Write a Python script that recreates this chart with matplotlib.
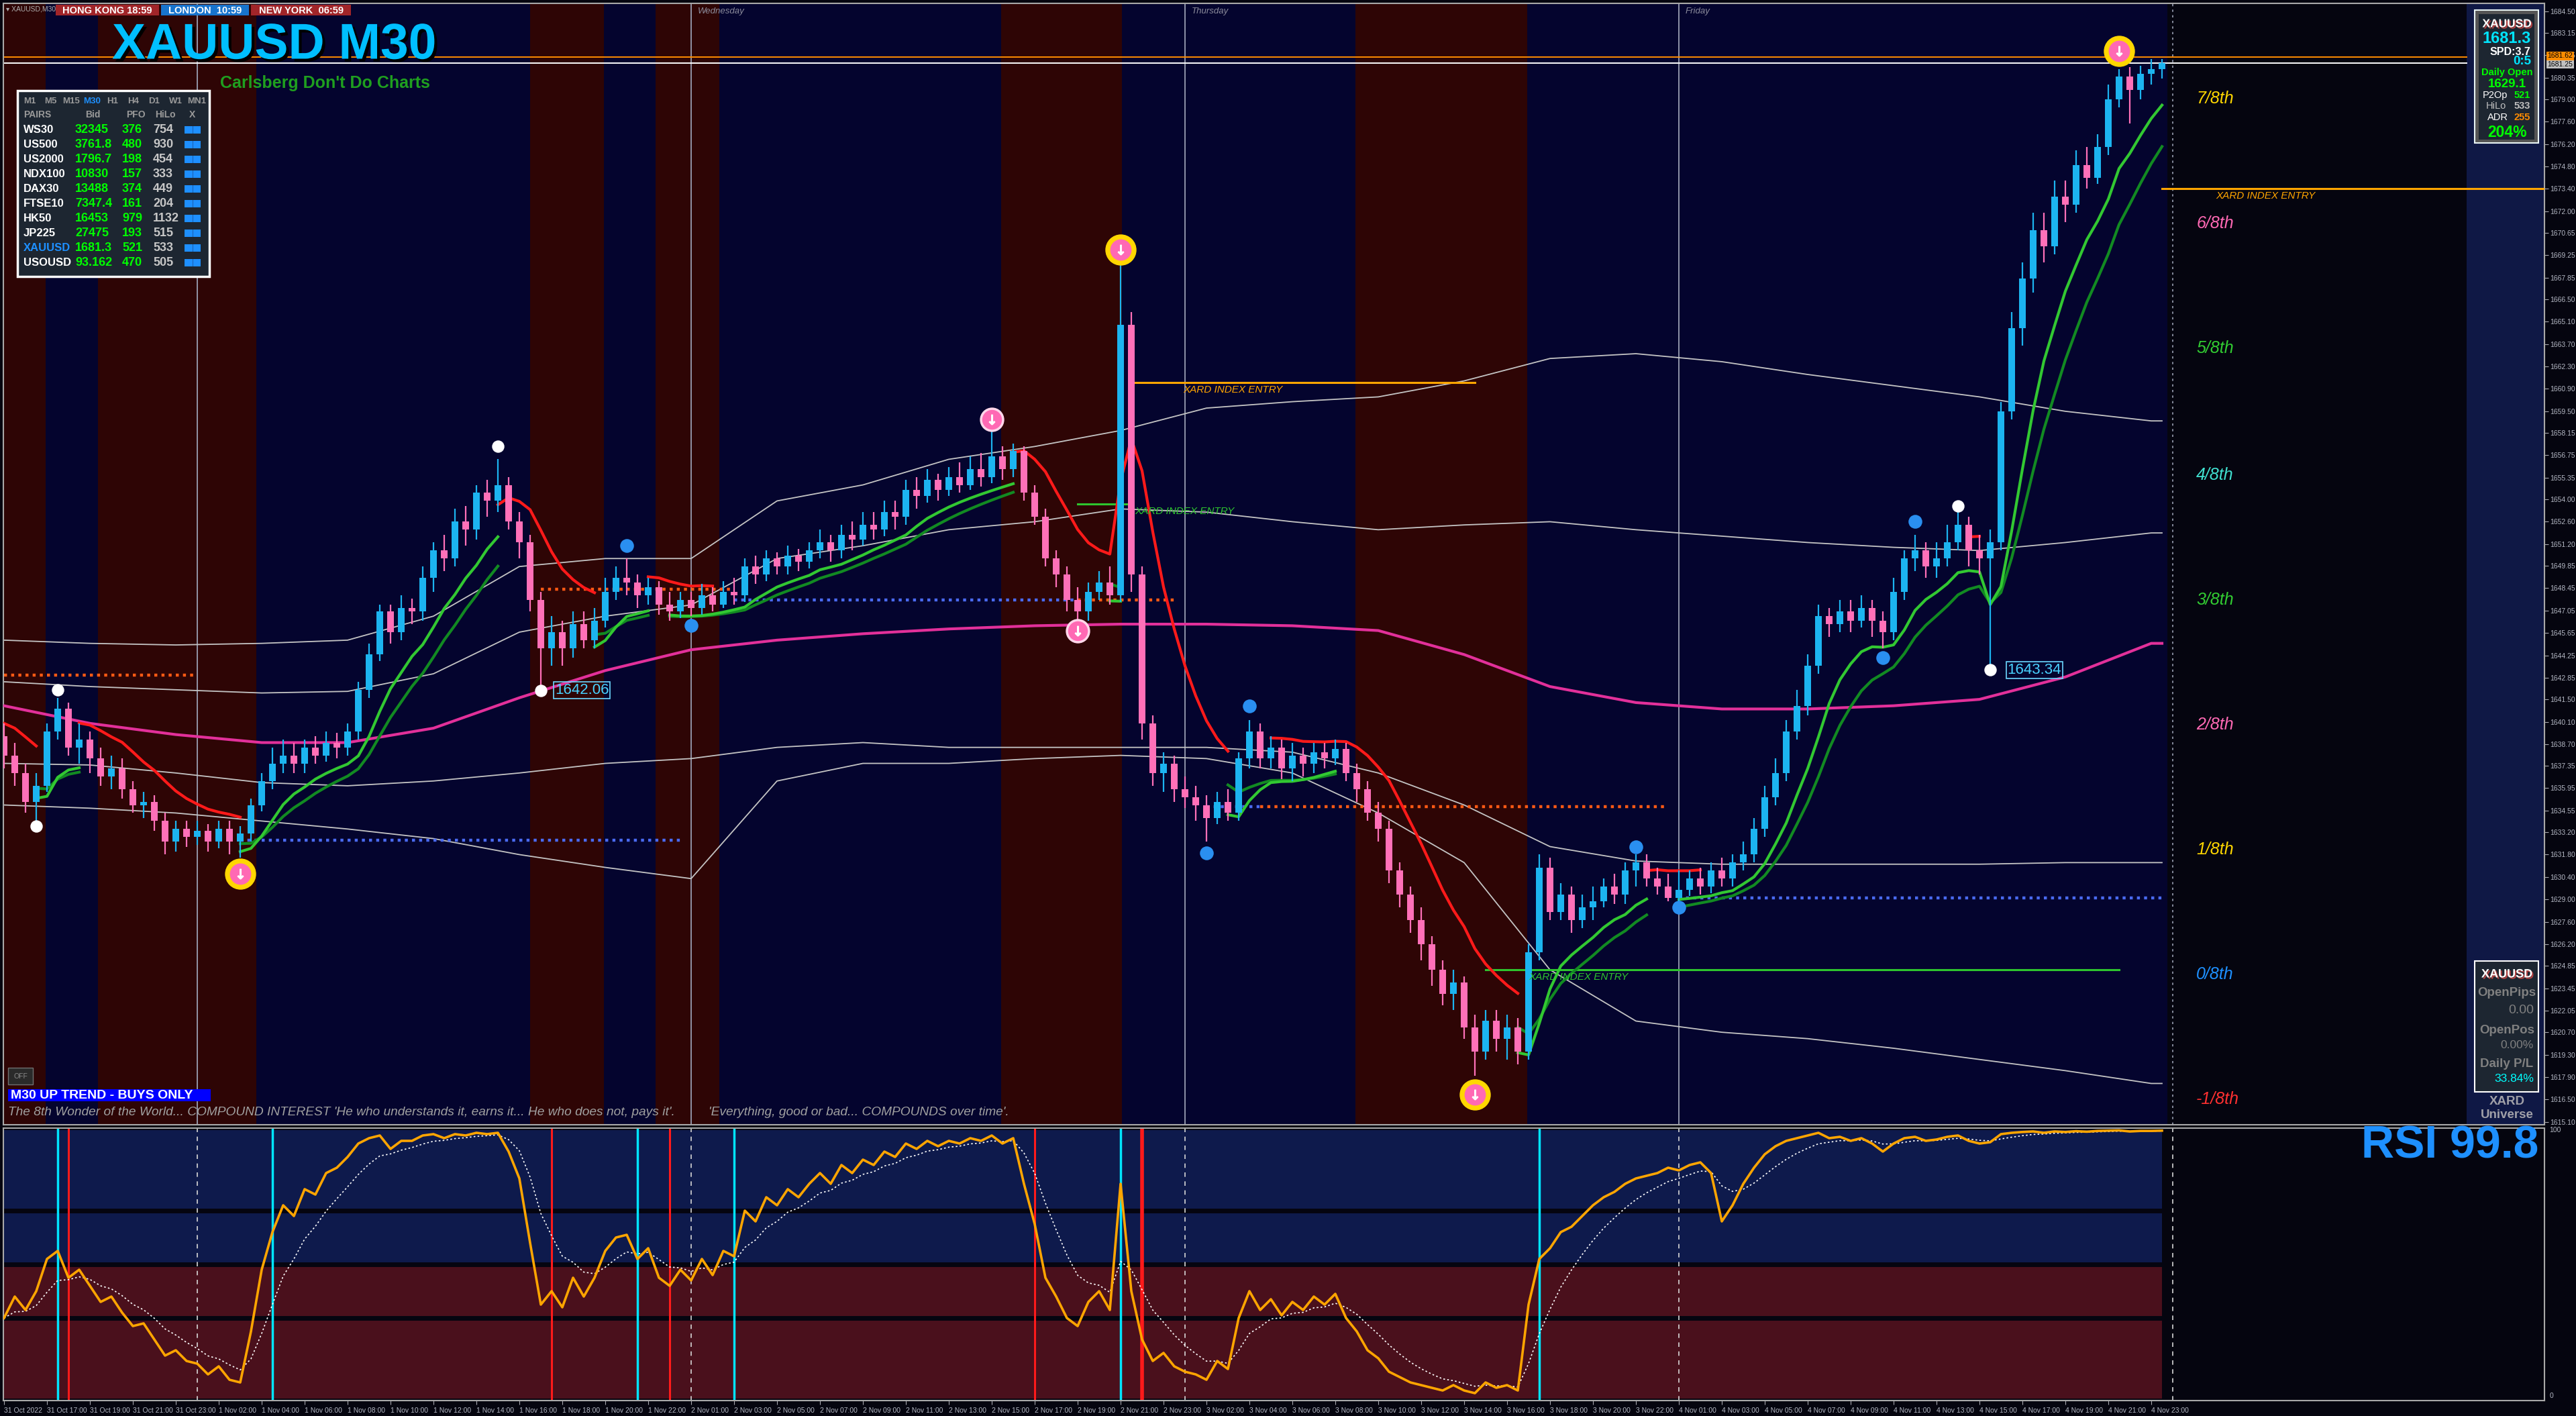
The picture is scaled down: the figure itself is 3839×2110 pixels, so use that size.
import numpy as np
import matplotlib
matplotlib.use("Agg")
import matplotlib.pyplot as plt
from matplotlib.patches import Rectangle
import matplotlib.patheffects as pe
from datetime import datetime, timedelta

plt.rcParams['font.family'] = ['Liberation Sans', 'DejaVu Sans']

# ---------------- data ----------------
first_open = 1639.2
closes = [1638.0, 1636.9, 1635.1, 1636.1, 1639.5, 1640.9, 1638.5, 1639.0, 1637.8, 1636.7,
          1637.2, 1635.9, 1634.9, 1635.1, 1633.9, 1632.6, 1633.4, 1632.9, 1633.3, 1632.6,
          1633.4, 1632.6, 1633.1, 1634.9, 1636.4, 1637.5, 1638.0, 1637.5, 1638.5, 1638.0,
          1638.8, 1638.5, 1639.5, 1642.1, 1644.3, 1647.0, 1645.7, 1647.2, 1647.0, 1649.1,
          1650.8, 1650.3, 1652.6, 1652.1, 1654.4, 1653.9, 1654.9, 1652.6, 1651.3, 1647.7,
          1644.7, 1645.7, 1644.7, 1646.2, 1645.2, 1646.4, 1648.2, 1649.1, 1648.8, 1648.0,
          1648.5, 1647.4, 1647.0, 1647.7, 1647.2, 1648.0, 1647.4, 1648.2, 1648.0, 1649.8,
          1649.3, 1650.3, 1649.8, 1650.5, 1650.1, 1650.8, 1651.3, 1650.8, 1651.8, 1651.5,
          1652.4, 1652.1, 1653.2, 1652.9, 1654.6, 1654.2, 1655.2, 1654.6, 1655.4, 1654.9,
          1655.9, 1655.4, 1656.7, 1655.9, 1657.0, 1654.4, 1652.9, 1650.3, 1649.3, 1647.7,
          1647.0, 1648.2, 1648.8, 1648.0, 1664.9, 1649.3, 1640.0, 1636.9, 1637.5, 1635.9,
          1635.4, 1634.9, 1634.1, 1635.1, 1634.4, 1637.8, 1639.5, 1637.8, 1638.5, 1637.2,
          1638.0, 1637.5, 1638.2, 1637.8, 1638.4, 1636.9, 1635.9, 1634.4, 1633.4, 1630.8,
          1629.3, 1627.7, 1626.2, 1624.6, 1623.1, 1623.8, 1621.0, 1619.5, 1621.4, 1620.3,
          1621.0, 1619.5, 1625.7, 1631.0, 1628.2, 1629.3, 1627.7, 1628.5, 1628.9, 1629.8,
          1629.3, 1630.8, 1631.3, 1630.3, 1629.8, 1629.1, 1629.6, 1630.3, 1629.8, 1630.8,
          1630.3, 1631.3, 1631.8, 1633.4, 1635.4, 1636.9, 1639.5, 1641.1, 1643.6, 1646.7,
          1646.2, 1647.0, 1646.4, 1647.2, 1646.4, 1645.7, 1648.2, 1650.3, 1650.8, 1649.8,
          1650.3, 1651.3, 1652.4, 1650.8, 1650.3, 1651.3, 1659.5, 1664.7, 1667.8, 1670.8,
          1669.8, 1672.9, 1672.4, 1674.9, 1674.1, 1676.0, 1679.0, 1680.4, 1679.6, 1680.6,
          1680.9, 1681.25]
highs = [1640.0, 1638.8, 1637.5, 1636.9, 1640.0, 1641.6, 1641.3, 1640.0, 1639.5, 1638.5,
         1638.0, 1637.8, 1636.4, 1635.7, 1635.5, 1634.4, 1633.9, 1633.9, 1633.9, 1633.7,
         1633.9, 1633.9, 1633.6, 1635.3, 1636.9, 1638.5, 1639.0, 1638.8, 1639.0, 1639.2,
         1639.5, 1639.4, 1640.0, 1642.6, 1645.0, 1647.4, 1647.4, 1648.0, 1647.8, 1649.8,
         1651.3, 1651.8, 1653.4, 1653.6, 1654.9, 1655.2, 1656.5, 1655.4, 1653.2, 1651.8,
         1648.2, 1646.7, 1646.4, 1647.0, 1647.0, 1647.2, 1649.1, 1649.8, 1650.3, 1649.3,
         1649.1, 1648.9, 1648.2, 1648.2, 1648.2, 1648.7, 1648.5, 1648.9, 1649.1, 1650.3,
         1650.5, 1650.8, 1650.7, 1651.1, 1650.9, 1651.3, 1652.1, 1651.8, 1652.4, 1652.6,
         1653.2, 1653.2, 1653.9, 1653.9, 1655.2, 1655.4, 1655.9, 1655.6, 1656.0, 1656.3,
         1656.7, 1656.9, 1658.3, 1657.3, 1657.5, 1657.3, 1654.9, 1653.4, 1650.8, 1649.8,
         1648.5, 1648.8, 1649.5, 1649.8, 1668.8, 1665.7, 1649.8, 1640.5, 1638.2, 1638.0,
         1636.7, 1636.1, 1635.5, 1635.7, 1635.9, 1638.2, 1640.2, 1640.0, 1639.2, 1639.0,
         1638.8, 1638.5, 1638.8, 1638.8, 1639.0, 1638.8, 1637.5, 1636.4, 1635.1, 1633.9,
         1631.3, 1629.8, 1628.5, 1626.7, 1625.2, 1624.6, 1624.2, 1621.8, 1622.1, 1622.1,
         1621.8, 1621.6, 1626.2, 1631.8, 1631.6, 1630.0, 1629.8, 1629.3, 1629.8, 1630.3,
         1630.6, 1631.3, 1631.8, 1631.8, 1631.0, 1630.6, 1630.8, 1630.8, 1631.0, 1631.3,
         1631.6, 1631.8, 1632.6, 1634.1, 1636.1, 1637.8, 1640.2, 1642.1, 1644.3, 1647.4,
         1647.2, 1647.7, 1647.7, 1648.0, 1647.7, 1647.0, 1649.1, 1650.8, 1651.8, 1651.3,
         1651.3, 1652.4, 1653.2, 1652.9, 1651.8, 1652.1, 1660.1, 1665.7, 1668.8, 1671.9,
         1671.9, 1673.9, 1673.9, 1675.8, 1676.0, 1676.8, 1679.9, 1680.9, 1681.0, 1681.1,
         1681.5, 1681.5]
lows = [1637.2, 1636.1, 1634.4, 1633.9, 1635.7, 1639.0, 1638.0, 1637.5, 1636.9, 1636.1,
        1635.9, 1635.3, 1634.4, 1634.1, 1633.3, 1631.8, 1632.0, 1632.3, 1632.4, 1632.0,
        1632.2, 1631.8, 1631.6, 1632.6, 1634.5, 1635.9, 1636.9, 1636.9, 1636.9, 1637.5,
        1637.6, 1637.8, 1638.0, 1639.0, 1641.6, 1643.9, 1645.0, 1645.2, 1646.2, 1646.4,
        1648.2, 1649.5, 1649.8, 1651.1, 1651.5, 1652.9, 1653.2, 1652.1, 1650.3, 1647.0,
        1642.06, 1643.6, 1643.6, 1644.1, 1644.7, 1644.7, 1646.0, 1647.7, 1648.0, 1647.2,
        1647.4, 1646.8, 1646.4, 1646.6, 1646.7, 1646.8, 1647.0, 1647.2, 1647.4, 1647.6,
        1648.7, 1648.9, 1649.3, 1649.3, 1649.5, 1649.7, 1650.3, 1650.1, 1650.3, 1650.8,
        1651.1, 1651.5, 1651.7, 1652.1, 1652.4, 1653.4, 1653.8, 1653.9, 1654.2, 1654.4,
        1654.6, 1654.8, 1655.0, 1655.2, 1655.4, 1653.9, 1652.4, 1649.8, 1648.5, 1647.0,
        1646.0, 1646.4, 1647.7, 1647.4, 1647.6, 1648.2, 1639.0, 1636.1, 1635.7, 1635.1,
        1634.7, 1633.9, 1632.6, 1633.7, 1633.9, 1633.9, 1637.2, 1637.2, 1637.2, 1636.5,
        1636.4, 1636.7, 1636.9, 1637.2, 1637.4, 1636.4, 1635.1, 1633.9, 1632.6, 1630.0,
        1628.5, 1626.9, 1625.2, 1623.6, 1622.4, 1622.1, 1620.3, 1618.0, 1619.0, 1619.5,
        1619.0, 1618.7, 1619.0, 1625.2, 1627.7, 1627.7, 1626.9, 1627.2, 1627.7, 1628.5,
        1628.7, 1628.7, 1629.8, 1629.8, 1629.3, 1628.9, 1628.9, 1629.2, 1629.3, 1629.4,
        1629.8, 1629.8, 1630.8, 1631.3, 1632.9, 1634.9, 1636.4, 1639.0, 1640.5, 1643.1,
        1645.4, 1645.7, 1645.7, 1646.0, 1645.4, 1644.7, 1645.2, 1647.7, 1649.5, 1649.1,
        1649.1, 1649.8, 1650.8, 1649.8, 1649.3, 1643.34, 1650.8, 1659.0, 1663.6, 1666.9,
        1668.8, 1669.3, 1671.3, 1671.9, 1673.4, 1673.7, 1675.5, 1678.5, 1677.5, 1679.0,
        1679.9, 1680.3]
rsi = [30, 38, 33, 40, 52, 55, 45, 48, 42, 36, 38, 32, 27, 28, 22, 16, 18, 14, 13, 9,
       12, 7, 6, 25, 48, 62, 72, 68, 78, 76, 84, 86, 90, 95, 97, 98, 93, 96, 96, 98,
       98.5, 97, 98.5, 98, 99, 98.5, 99, 92, 82, 58, 35, 40, 34, 45, 38, 45, 55, 60, 61, 52,
       56, 45, 42, 48, 44, 52, 46, 55, 53, 70, 66, 75, 72, 78, 75, 80, 84, 80, 87, 84,
       89, 87, 92, 90, 95, 93, 96, 94, 96, 95, 97, 96, 98, 95, 97, 80, 65, 45, 38, 30,
       27, 36, 40, 33, 80, 40, 22, 14, 17, 12, 10, 9, 7, 14, 11, 30, 40, 33, 37, 31,
       36, 33, 38, 35, 39, 30, 25, 18, 15, 10, 8, 6, 5, 4, 3, 5, 3, 2, 6, 4,
       5, 3, 35, 52, 56, 62, 64, 68, 72, 75, 77, 80, 82, 83, 84, 86, 85, 87, 88, 84,
       66, 72, 80, 86, 91, 94, 96, 97, 98, 99, 97, 97.5, 96, 97, 95, 92, 95, 97, 97.5, 96,
       96.5, 97.5, 98, 96, 95, 95.5, 98.5, 99, 99.3, 99.5, 99, 99.5, 99.3, 99.6, 99.4, 99.7,
       99.8, 99.9, 99.5, 99.7, 99.7, 99.8]

# session background bands (bar positions)
band_edges = [-0.5, 3.9, 8.75, 23.5, 49.0, 55.9, 60.7, 66.6, 92.9, 104.1, 125.9, 141.9, 201.5]
band_kinds = ['r', 'n', 'r', 'n', 'r', 'n', 'r', 'n', 'r', 'n', 'r', 'n']

# slow average and envelopes, sampled every 8 bars
env_bars = [0, 8, 16, 24, 32, 40, 48, 56, 64, 72, 80, 88, 96, 104, 112, 120, 128, 136,
            144, 152, 160, 168, 176, 184, 192, 200]
slow_ma = [1641.1, 1640.0, 1639.3, 1638.8, 1638.8, 1639.7, 1641.6, 1643.3, 1644.6, 1645.2,
           1645.6, 1645.9, 1646.1, 1646.2, 1646.2, 1646.1, 1645.8, 1644.3, 1642.3, 1641.3,
           1640.9, 1640.9, 1641.1, 1641.5, 1642.9, 1645.0]
env_up2 = [1645.2, 1645.0, 1644.9, 1645.0, 1645.2, 1646.7, 1649.8, 1650.3, 1650.3, 1653.9,
           1654.9, 1656.5, 1657.3, 1658.3, 1659.7, 1660.1, 1660.4, 1661.4, 1662.8, 1663.1,
           1662.6, 1661.8, 1661.1, 1660.4, 1659.5, 1658.9]
env_up1 = [1642.6, 1642.3, 1642.1, 1641.9, 1642.0, 1643.1, 1645.7, 1646.7, 1647.4, 1650.3,
           1651.1, 1652.1, 1652.6, 1653.4, 1653.2, 1652.6, 1652.1, 1652.4, 1652.6, 1652.1,
           1651.7, 1651.3, 1651.0, 1650.8, 1651.3, 1651.9]
env_dn1 = [1637.5, 1637.4, 1636.9, 1636.3, 1636.1, 1636.4, 1636.9, 1637.5, 1637.8, 1638.5,
           1638.8, 1638.5, 1638.5, 1638.5, 1638.5, 1638.2, 1636.9, 1634.9, 1632.3, 1631.4,
           1631.2, 1631.2, 1631.2, 1631.2, 1631.3, 1631.3]
env_dn2 = [1634.9, 1634.7, 1634.4, 1633.9, 1633.4, 1632.8, 1631.8, 1631.0, 1630.3, 1636.4,
           1637.5, 1637.5, 1637.8, 1638.0, 1637.8, 1636.9, 1634.4, 1631.3, 1624.6, 1621.4,
           1620.7, 1620.3, 1619.7, 1619.0, 1618.3, 1617.5]

# daily-open style dotted levels
dot_levels = [1643.0, 1632.7, 1648.4, 1647.7, 1647.7, 1634.8, 1634.8, 1629.1]
dot_start = [0, 22, 50, 68, 100, 112, 117, 156]
dot_end = [18, 63, 68, 100, 109, 117, 155, 201]
dot_kind = ['o', 'b', 'o', 'b', 'o', 'b', 'o', 'b']

# "XARD INDEX ENTRY" lines
entry_levels = [1661.3, 1653.7, 1624.6, 1673.4]
entry_start = [105, 100, 138, 201]
entry_end = [137, 105, 197, 240]
entry_text_x = [109.8, 105.3, 142.0, 206.0]
entry_kind = ['o', 'g', 'g', 'o']

white_x = [3, 5, 46, 50, 182, 185]
white_y = [1633.6, 1642.1, 1657.3, 1642.06, 1653.6, 1643.34]
blue_x = [58, 64, 112, 116, 152, 156, 175, 178]
blue_y = [1651.1, 1646.1, 1631.9, 1641.1, 1632.3, 1628.5, 1644.1, 1652.6]
pink_x = [92, 100]
pink_y = [1659.0, 1645.8]
ring_x = [22, 104, 137, 197]
ring_y = [1630.6, 1669.6, 1616.8, 1682.0]

fib_labels = ['7/8th', '6/8th', '5/8th', '4/8th', '3/8th', '2/8th', '1/8th', '0/8th', '-1/8th']
fib_prices = [1679.04, 1671.24, 1663.44, 1655.53, 1647.73, 1639.93, 1632.13, 1624.33, 1616.53]
fib_colors = ['#ffd700', '#ff69b4', '#32cd32', '#40e0d0', '#32cd32', '#ff69b4', '#ffd700',
              '#1e90ff', '#ff3030']

cyan_sig = [5, 25, 59, 68, 104, 143]
red_sig = [6, 51, 62, 96, 106]

price_ticks = [1684.50, 1683.15, 1681.75, 1680.35, 1679.00, 1677.60, 1676.20, 1674.80, 1673.40,
               1672.00, 1670.65, 1669.25, 1667.85, 1666.50, 1665.10, 1663.70, 1662.30, 1660.90,
               1659.50, 1658.15, 1656.75, 1655.35, 1654.00, 1652.60, 1651.20, 1649.85, 1648.45,
               1647.05, 1645.65, 1644.25, 1642.85, 1641.50, 1640.10, 1638.70, 1637.35, 1635.95,
               1634.55, 1633.20, 1631.80, 1630.40, 1629.00, 1627.60, 1626.20, 1624.85, 1623.45,
               1622.05, 1620.70, 1619.30, 1617.90, 1616.50, 1615.10]
bid, ask = 1681.25, 1681.62

pairs = ['WS30', 'US500', 'US2000', 'NDX100', 'DAX30', 'FTSE10', 'HK50', 'JP225', 'XAUUSD', 'USOUSD']
pair_bid = ['32345', '3761.8', '1796.7', '10830', '13488', '7347.4', '16453', '27475', '1681.3', '93.162']
pair_pfo = ['376', '480', '198', '157', '374', '161', '979', '193', '521', '470']
pair_hilo = ['754', '930', '454', '333', '449', '204', '1132', '515', '533', '505']
timeframes = ['M1', 'M5', 'M15', 'M30', 'H1', 'H4', 'D1', 'W1', 'MN1']

# ---------------- figure ----------------
W, H, DPI = 3839, 2110, 100
BG = '#05050f'
NAVY = '#04042e'
MAROON = '#2e0505'
fig = plt.figure(figsize=(W / DPI, H / DPI), dpi=DPI)
fig.patch.set_facecolor(BG)


def fig_box(x0, y0, x1, y1):
    return [x0 / W, 1 - y1 / H, (x1 - x0) / W, (y1 - y0) / H]


def ftext(x, y, s, **kw):
    kw.setdefault('va', 'center')
    fig.text(x / W, 1 - y / H, s, **kw)


def frect(x0, y0, x1, y1, **kw):
    fig.add_artist(Rectangle((x0 / W, 1 - y1 / H), (x1 - x0) / W, (y1 - y0) / H,
                             transform=fig.transFigure, **kw))


ax = fig.add_axes(fig_box(5, 5, 3792, 1676))
rax = fig.add_axes(fig_box(5, 1681, 3792, 2087))
XMIN, XMAX = (5 - 6) / 16, (3792 - 6) / 16

o = np.array([first_open] + closes[:-1])
c = np.array(closes)
h = np.maximum(np.array(highs), np.maximum(o, c))
l = np.minimum(np.array(lows), np.minimum(o, c))
n = len(c)
x = np.arange(n)

t = datetime(2022, 10, 31, 15, 0)
times = []
while len(times) < n:
    if t.hour != 0:
        times.append(t)
    t += timedelta(minutes=30)
day_bars = [i for i, tt in enumerate(times) if tt.hour == 1 and tt.minute == 0] + [n]

# ---- main panel ----
ax.set_facecolor(BG)
for k in range(len(band_kinds)):
    ax.axvspan(band_edges[k], band_edges[k + 1], color=MAROON if band_kinds[k] == 'r' else NAVY,
               zorder=0, lw=0)
ax.axvspan(229.4, XMAX, color='#0f1845', zorder=0.5, lw=0)

for b in day_bars[:-1]:
    ax.axvline(b, color='#9aa0b4', lw=1.3, zorder=1)
ax.axvline(day_bars[-1], color='#9aa0b4', lw=1.2, ls=(0, (2, 3)), zorder=1)
for b, name in zip(day_bars[1:4], ['Wednesday', 'Thursday', 'Friday']):
    ax.text(b + 0.6, 1684.5, name, color='#8c8c9c', style='italic', fontsize=9.5, va='center')

ax.plot([XMIN, 229.4], [ask, ask], color='#ff8c00', lw=1.4, zorder=2)
ax.plot([XMIN, 229.4], [bid, bid], color='white', lw=1.4, zorder=2)

for line in (env_up2, env_up1, env_dn1, env_dn2):
    ax.plot(env_bars + [n - 1], line + [line[-1]], color='#c4c4c4', lw=1.3, zorder=2)
ax.plot(env_bars + [n - 1], slow_ma + [slow_ma[-1]], color='#e2309a', lw=3, zorder=3)

for lv, s0, s1, kd in zip(dot_levels, dot_start, dot_end, dot_kind):
    ax.plot([s0, s1], [lv, lv], color='#ff5a14' if kd == 'o' else '#4a6af0', lw=3.2,
            ls=(0, (1, 1.4)), zorder=3)

ecol = {'o': '#ffa500', 'g': '#2ec52e'}
for lv, s0, s1, tx, kd in zip(entry_levels, entry_start, entry_end, entry_text_x, entry_kind):
    ax.plot([s0, s1], [lv, lv], color=ecol[kd], lw=2.2, zorder=3)
    ax.text(tx, lv - 0.15, 'XARD INDEX ENTRY', color=ecol[kd], style='italic', fontsize=11,
            va='top', zorder=6)


def ema(vals, span):
    a = 2.0 / (span + 1)
    out = np.empty(len(vals))
    out[0] = vals[0]
    for i in range(1, len(vals)):
        out[i] = a * vals[i] + (1 - a) * out[i - 1]
    return out


red_ma = ema(h, 7)
g_fast = ema(l, 5)
g_slow = ema(l, 9)
trend = ema(c, 6)
down = np.r_[False, np.diff(trend) < 0]
red_vis = down | np.r_[down[1:], False]
grn_vis = (~down) | np.r_[(~down)[1:], False]
ax.plot(x, np.where(grn_vis, g_slow, np.nan), color='#128a22', lw=3, zorder=4)
ax.plot(x, np.where(grn_vis, g_fast, np.nan), color='#32c832', lw=3, zorder=4)
ax.plot(x, np.where(red_vis, red_ma, np.nan), color='#ff1a1a', lw=3, zorder=4)

# candles
up = c >= o
col = np.where(up, '#1cb4f0', '#ff70b8')
ax.vlines(x, l, h, colors=col, lw=1.6, zorder=5)
body = c - o
body = np.where(np.abs(body) < 0.06, 0.06, body)
ax.bar(x, body, bottom=o, width=0.62, color=col, zorder=5, lw=0)

# signal markers
ax.scatter(white_x, white_y, s=150, color='white', zorder=7)
ax.scatter(blue_x, blue_y, s=190, color='#2a8ff0', zorder=7)
ax.scatter(pink_x, pink_y, s=560, color='#ff69b4', edgecolors='#ffd6ea', linewidths=2.5, zorder=7)
ax.scatter(ring_x, ring_y, s=1050, color='#ffd700', zorder=7)
ax.scatter(ring_x, ring_y, s=480, color='#ff69b4', zorder=8)
ax.scatter(pink_x + ring_x, pink_y + ring_y, s=110, marker=r'$\downarrow$', color='white', zorder=9)

for bx, val in ((51.3, 1642.06), (186.6, 1643.34)):
    ax.text(bx, val, f'{val:.2f}', color='#48d2ff', fontsize=16, va='center', zorder=8,
            bbox=dict(facecolor='none', edgecolor='#6cd8ff', lw=1.2, pad=1.5))

for lab, pv, fc in zip(fib_labels, fib_prices, fib_colors):
    ax.text(204.2, pv, lab, color=fc, style='italic', fontsize=18, va='center', zorder=6)

ax.set_xlim(XMIN, XMAX)
ax.set_ylim(1614.92, 1684.99)
ax.set_xticks([])
ax.yaxis.tick_right()
ax.set_yticks(price_ticks)
ax.set_yticklabels([f'{v:.2f}' for v in price_ticks])
ax.tick_params(axis='y', colors='#a8a8b0', labelcolor='#b4b8c4', labelsize=7.5, length=4, pad=2)
for sp in ax.spines.values():
    sp.set_color('#a8a8a8')
    sp.set_linewidth(1.5)

ytr = ax.get_yaxis_transform()
ax.text(1.0012, ask + 0.08, f'{ask:.2f}', transform=ytr, fontsize=7.5, color='black', va='center',
        clip_on=False, zorder=10, bbox=dict(facecolor='#ff8c00', edgecolor='none', pad=1))
ax.text(1.0012, bid - 0.08, f'{bid:.2f}', transform=ytr, fontsize=7.5, color='black', va='center',
        clip_on=False, zorder=10, bbox=dict(facecolor='#c0c0c0', edgecolor='none', pad=1))

# ---- RSI panel ----
rax.set_facecolor(BG)
rax.add_patch(Rectangle((XMIN, 50), n - 1 - XMIN, 50, color='#0e1a4c', zorder=0, lw=0))
rax.add_patch(Rectangle((XMIN, 0), n - 1 - XMIN, 50, color='#4a101c', zorder=0, lw=0))
for lv in (30, 50, 70):
    rax.plot([XMIN, n - 1], [lv, lv], color='#050510', lw=5, zorder=1)
for b in day_bars:
    rax.axvline(b, color='#d8d8d8', lw=1.2, ls=(0, (4, 4)), zorder=2)
for b in cyan_sig:
    rax.axvline(b, color='#00e5ff', lw=2.5, zorder=2)
for b in red_sig:
    rax.axvline(b, color='#ff1a1a', lw=4 if b == 106 else 2.2, zorder=2)
rsi_arr = np.array(rsi, dtype=float)
rax.plot(x, ema(rsi_arr, 6), color='white', lw=1.2, ls=(0, (1.5, 2)), zorder=3)
rax.plot(x, rsi_arr, color='#ffa500', lw=2.6, zorder=4)
rax.set_xlim(XMIN, XMAX)
rax.set_ylim(-0.75, 100.75)
rax.set_yticks([])
ticks = list(range(0, n, 4))
rax.set_xticks(ticks)
rax.set_xticklabels(['31 Oct 2022' if i == 0 else f'{times[i].day} {times[i]:%b %H:%M}' for i in ticks])
for lab in rax.get_xticklabels():
    lab.set_ha('left')
rax.tick_params(axis='x', colors='#a8a8b0', labelcolor='#b4b8c4', labelsize=7.5, length=4, pad=3)
for sp in rax.spines.values():
    sp.set_color('#a8a8a8')
    sp.set_linewidth(1.5)
rax.text(1.002, 100, '100', transform=rax.get_yaxis_transform(), color='#b4b8c4', fontsize=7.5,
         va='center')
rax.text(1.002, 1, '0', transform=rax.get_yaxis_transform(), color='#b4b8c4', fontsize=7.5,
         va='center')
ftext(3783, 1707, f'RSI {rsi[-1]:.1f}', color='#1e90ff', fontsize=49, weight='bold', ha='right')

# ---- header ----
ftext(9, 13, '\u25be XAUUSD,M30', color='#b0b0b0', fontsize=7.5)
for (x0, x1, fc, label) in ((83, 237, '#a12529', 'HONG KONG 18:59'),
                            (240, 371, '#1874cd', 'LONDON  10:59'),
                            (374, 523, '#a12529', 'NEW YORK  06:59')):
    frect(x0, 7, x1, 23, facecolor=fc, edgecolor='none', zorder=4)
    ftext((x0 + x1) / 2, 15.5, label, color='white', fontsize=10.5, weight='bold', ha='center', zorder=5)
ftext(167, 68, 'XAUUSD M30', color='#00bfff', fontsize=54, weight='bold', zorder=5,
      path_effects=[pe.withSimplePatchShadow(offset=(3, -3), shadow_rgbFace='black', alpha=1)])
ftext(328, 124, "Carlsberg Don't Do Charts", color='#1f9f1f', fontsize=18, weight='bold', zorder=5)

# ---- market table ----
frect(26, 135, 312, 412, facecolor='#1d2631', edgecolor='white', lw=2.5, zorder=4)
for tf, tx in zip(timeframes, [35, 66, 93, 124, 159, 190, 221, 252, 279]):
    ftext(tx, 151, tf, color='#1e90ff' if tf == 'M30' else '#9a9a9a', fontsize=9.5, weight='bold', zorder=5)
for hd, tx in zip(['PAIRS', 'Bid', 'PFO', 'HiLo', 'X'], [35, 127, 188, 231, 282]):
    ftext(tx, 171, hd, color='#9a9a9a', fontsize=10, weight='bold', zorder=5)
for k in range(len(pairs)):
    yy = 193 + 22 * k
    ftext(35, yy, pairs[k], color='#1e90ff' if pairs[k] == 'XAUUSD' else 'white', fontsize=12,
          weight='bold', zorder=5)
    ftext(112, yy, pair_bid[k], color='#00ff00', fontsize=13, weight='bold', zorder=5)
    ftext(182, yy, pair_pfo[k], color='#00ff00', fontsize=13, weight='bold', zorder=5)
    ftext(228, yy, pair_hilo[k], color='#c8c8c8', fontsize=13, weight='bold', zorder=5)
    frect(275, yy - 5.5, 299, yy + 5.5, facecolor='#1e8fff', edgecolor='none', zorder=5)
    frect(286.5, yy - 5.5, 287.5, yy + 5.5, facecolor='#1a5fb0', edgecolor='none', zorder=6)

# ---- right info boxes ----
frect(3688, 15, 3783, 213, facecolor='#555555', edgecolor='#e8f4f4', lw=1.5, zorder=4)
frect(3694, 21, 3777, 208, facecolor='#1d2631', edgecolor='none', zorder=4)
ftext(3736, 36, 'XAUUSD', color='white', fontsize=12.5, weight='bold', ha='center', zorder=5,
      path_effects=[pe.withSimplePatchShadow(offset=(1.5, -1.5), shadow_rgbFace='#b04040', alpha=1)])
ftext(3736, 58, '1681.3', color='#00e5ff', fontsize=17, weight='bold', ha='center', zorder=5)
ftext(3771, 77, 'SPD:3.7', color='white', fontsize=11.5, weight='bold', ha='right', zorder=5)
ftext(3772, 92, '0:5', color='#00e5ff', fontsize=13.5, weight='bold', ha='right', zorder=5)
ftext(3736, 108, 'Daily Open', color='#00ff00', fontsize=10.5, weight='bold', ha='center', zorder=5)
ftext(3736, 125, '1629.1', color='#00ff00', fontsize=13.5, weight='bold', ha='center', zorder=5)
ftext(3700, 142, 'P2Op', color='white', fontsize=10.5, zorder=5)
ftext(3771, 142, '521', color='#00ff00', fontsize=10.5, weight='bold', ha='right', zorder=5)
ftext(3705, 158, 'HiLo', color='#c0c0c0', fontsize=10.5, zorder=5)
ftext(3771, 158, '533', color='#c0c0c0', fontsize=10.5, weight='bold', ha='right', zorder=5)
ftext(3707, 175, 'ADR', color='white', fontsize=10.5, zorder=5)
ftext(3771, 175, '255', color='#ff8c00', fontsize=10.5, weight='bold', ha='right', zorder=5)
ftext(3736, 197, '204%', color='#00ff00', fontsize=16.5, weight='bold', ha='center', zorder=5)

frect(3688, 1432, 3783, 1627, facecolor='#1d2631', edgecolor='white', lw=1.5, zorder=4)
ftext(3736, 1452, 'XAUUSD', color='white', fontsize=13, weight='bold', ha='center', zorder=5,
      path_effects=[pe.withSimplePatchShadow(offset=(1.5, -1.5), shadow_rgbFace='#b04040', alpha=1)])
ftext(3736, 1480, 'OpenPips', color='#808080', fontsize=13.5, weight='bold', ha='center', zorder=5)
ftext(3776, 1505, '0.00', color='#808080', fontsize=14, ha='right', zorder=5)
ftext(3736, 1535, 'OpenPos', color='#808080', fontsize=13.5, weight='bold', ha='center', zorder=5)
ftext(3776, 1558, '0.00%', color='#808080', fontsize=12.5, ha='right', zorder=5)
ftext(3736, 1585, 'Daily P/L', color='#808080', fontsize=13.5, weight='bold', ha='center', zorder=5)
ftext(3776, 1608, '33.84%', color='#00ffff', fontsize=12.5, ha='right', zorder=5)
ftext(3736, 1642, 'XARD', color='#a0a0a8', fontsize=13.5, weight='bold', ha='center', zorder=5)
ftext(3736, 1661, 'Universe', color='#a0a0a8', fontsize=13.5, weight='bold', ha='center', zorder=5)

# ---- bottom-left notes ----
frect(12, 1591, 49, 1616, facecolor='#2a2a2a', edgecolor='#707070', lw=1, zorder=4)
ftext(30.5, 1604, 'OFF', color='#8a8a8a', fontsize=7.5, ha='center', zorder=5)
frect(12, 1623, 314, 1641, facecolor='#0000ff', edgecolor='none', zorder=4)
ftext(16, 1632.5, 'M30 UP TREND - BUYS ONLY', color='white', fontsize=14, weight='bold', zorder=5)
ftext(12, 1658, "The 8th Wonder of the World... COMPOUND INTEREST 'He who understands it, earns it... "
      "He who does not, pays it'.", color='#a0a0a0', style='italic', fontsize=13.8, zorder=5)
ftext(1056, 1658, "'Everything, good or bad... COMPOUNDS over time'.", color='#a0a0a0',
      style='italic', fontsize=13.8, zorder=5)

fig.savefig('out.png', dpi=DPI, facecolor=BG)
